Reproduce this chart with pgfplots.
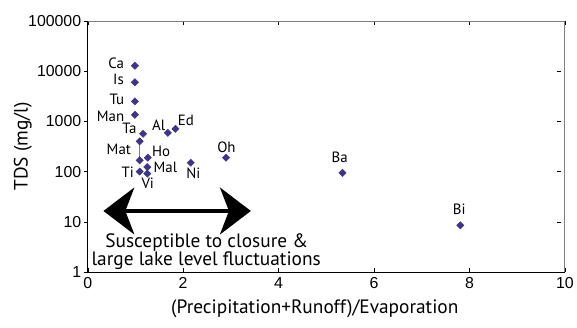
\documentclass[border=0pt]{standalone}
\usepackage{pgfplots}
\pgfplotsset{compat=1.18}
\usepackage{fontspec}
\setmainfont{PT Sans}
\newfontfamily\tickfont{Liberation Sans}
\usetikzlibrary{arrows.meta}
\definecolor{mk}{RGB}{62,52,140}
\begin{document}
\begin{tikzpicture}
\begin{axis}[
  scale only axis, width=479bp, height=252bp,
  xmin=0, xmax=10, ymode=log, ymin=1, ymax=100000,
  axis line style={draw=none},
  xtick={0,2,4,6,8,10}, ytick={1,10,100,1000,10000,100000},
  yticklabels={1,10,100,1000,10000,100000},
  xticklabels={0,2,4,6,8,10},
  yminorticks=false,
  tick align=inside, major tick length=4bp,
  y tick style={xshift=-4bp, black},
  x tick style={black},
  tick label style={font=\tickfont\fontsize{16}{19}\selectfont},
  /pgf/number format/assume math mode=true,
  yticklabel style={xshift=-3bp},
  xticklabel style={yshift=-2bp},
  xlabel={(Precipitation+Runoff)/Evaporation},
  ylabel={TDS (mg/l)},
  xlabel style={font=\fontsize{19.5}{22}\selectfont, at={(axis description cs:0.476,-0.147)}, anchor=center},
  ylabel style={font=\fontsize{19.5}{22}\selectfont, at={(axis description cs:-0.136,0.5)}, anchor=center, rotate=0},
  clip=false,
]
\draw[black, line width=0.8bp] (rel axis cs:0,1) -- (rel axis cs:0,0) -- (rel axis cs:1,0);
\draw[gray, line width=0.8bp] (rel axis cs:0,1) -- (rel axis cs:1,1) -- (rel axis cs:1,0);
\addplot[gray, line width=0.6bp] coordinates {(1.09,400) (1.09,167)};
\addplot[only marks, mark=square*, mark size=2.6bp, mark options={rotate=45, fill=mk, draw=mk}] coordinates {
(0.99,12800) (0.99,6000) (0.99,2500) (0.99,1350) (1.16,565) (1.09,400) (1.09,167)
(1.26,189) (1.68,590) (1.84,710) (1.09,100) (1.25,123) (1.25,91) (2.16,150)
(2.90,189) (5.34,94) (7.81,8.5)};
\begin{scope}[every node/.style={font=\fontsize{15}{18}\selectfont, inner sep=0pt, anchor=center}]
\node at (axis cs:0.599,14030) {Ca};
\node at (axis cs:0.647,6750) {Is};
\node at (axis cs:0.612,2795) {Tu};
\node at (axis cs:0.48,1262) {Man};
\node at (axis cs:0.877,710) {Ta};
\node at (axis cs:0.653,276) {Mat};
\node at (axis cs:1.539,248) {Ho};
\node at (axis cs:1.489,826) {Al};
\node at (axis cs:2.06,1052) {Ed};
\node at (axis cs:0.841,97.7) {Ti};
\node at (axis cs:1.628,123) {Mal};
\node at (axis cs:1.259,57.5) {Vi};
\node at (axis cs:2.213,90.8) {Ni};
\node at (axis cs:2.908,298) {Oh};
\node at (axis cs:5.282,189) {Ba};
\node at (axis cs:7.787,17.8) {Bi};
\end{scope}
\draw[line width=3.5bp, {Stealth[length=31bp,width=47bp,inset=9bp]}-{Stealth[length=31bp,width=47bp,inset=9bp]}] (axis cs:0.33,16.4) -- (axis cs:3.42,16.4);
\node[font=\fontsize{19.5}{24}\selectfont, inner sep=0pt] at (axis cs:2.495,3.94) {Susceptible to closure \&};
\node[font=\fontsize{19.5}{24}\selectfont, inner sep=0pt] at (axis cs:2.484,1.65) {large lake level fluctuations};
\end{axis}
\path ([shift={(-88bp,-56bp)}]current axis.south west) rectangle ([shift={(10bp,21bp)}]current axis.north east);
\end{tikzpicture}
\end{document}
